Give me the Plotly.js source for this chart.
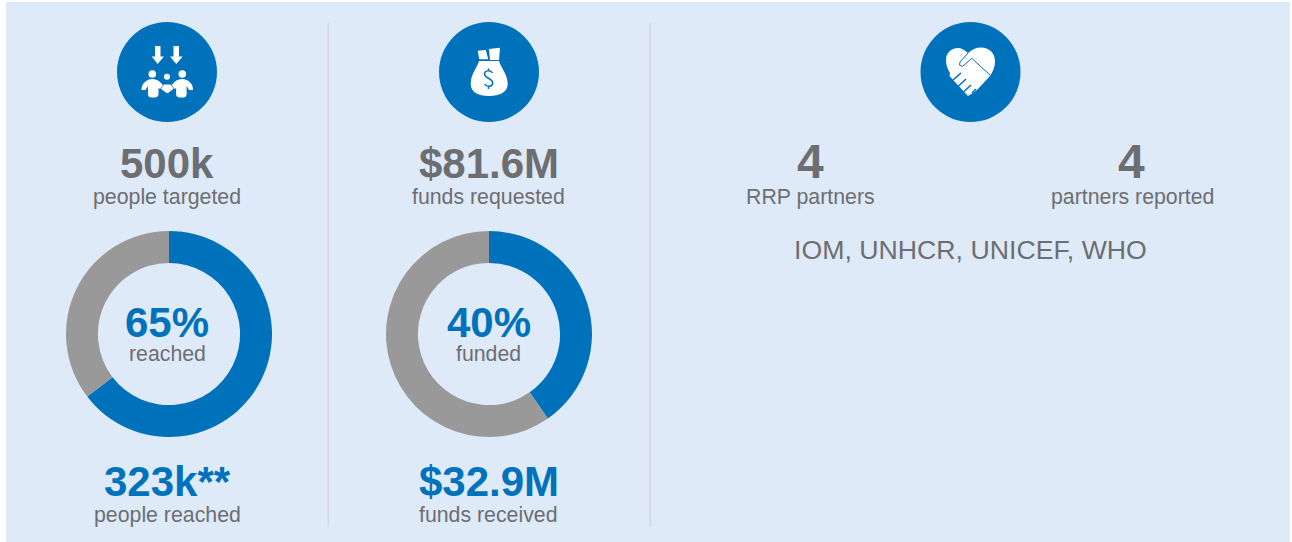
<!DOCTYPE html>
<html><head><meta charset="utf-8">
<script src="https://cdn.plot.ly/plotly-3.0.1.min.js"></script>
<style>html,body{margin:0;padding:0;background:#fff}#c{width:1292px;height:542px}</style>
</head><body><div id="c"></div>
<script>
const W = 1292, H = 542;
const BLUE = '#0072BC', GREY = '#999999', TXT = '#6D6E71', PANEL = '#DFEAF9', RULE = '#D3D8DE';
const FONT = '"Liberation Sans", Arial, sans-serif';

const donutLabels = ['Achieved', 'Remaining'];
const peopleValues = [323, 177];
const fundsValues = [32.9, 48.7];
const donutCentersX = [169, 489];
const donutCenterY = 334;
const donutRadius = 103;

const BIG = 42, SMALL = 21.3;
const texts = [
  ['500k', 167, 163, BIG, TXT, true],
  ['people targeted', 167, 197, SMALL, TXT, false],
  ['65%', 167, 322, BIG, BLUE, true],
  ['reached', 167, 354, SMALL, TXT, false],
  ['323k**', 167, 481, BIG, BLUE, true],
  ['people reached', 167, 515, SMALL, TXT, false],
  ['$81.6M', 488.5, 163, BIG, TXT, true],
  ['funds requested', 488.5, 197, SMALL, TXT, false],
  ['40%', 488.5, 322, BIG, BLUE, true],
  ['funded', 488.5, 354, SMALL, TXT, false],
  ['$32.9M', 488.5, 481, BIG, BLUE, true],
  ['funds received', 488.5, 515, SMALL, TXT, false],
  ['4', 810.5, 161, 48, TXT, true],
  ['RRP partners', 810.5, 197, SMALL, TXT, false],
  ['4', 1131.5, 161, 48, TXT, true],
  ['partners reported', 1132, 197, SMALL, TXT, false],
  ['IOM, UNHCR, UNICEF, WHO', 970, 250, 26.7, TXT, false]
];

const dom = (c, r, size) => [(c - r) / size, (c + r) / size];
const donut = (values, cx) => ({
  type: 'pie', labels: donutLabels, values: values, hole: 0.69, sort: false,
  direction: 'clockwise', rotation: 0, textinfo: 'none', hoverinfo: 'label+value',
  marker: {colors: [BLUE, GREY], line: {width: 0}},
  domain: {x: dom(cx, donutRadius, W), y: [1 - (donutCenterY + donutRadius) / H, 1 - (donutCenterY - donutRadius) / H]},
  showlegend: false
});

const rect = (x0, y0, x1, y1, fill) => ({type: 'rect', xref: 'x', yref: 'y', x0, y0, x1, y1, fillcolor: fill, line: {width: 0}, layer: 'below'});
const circ = (cx, cy, r, fill) => ({type: 'circle', xref: 'x', yref: 'y', x0: cx - r, y0: cy - r, x1: cx + r, y1: cy + r, fillcolor: fill, line: {width: 0}, layer: 'below'});
const path = (d, fill, line) => ({type: 'path', xref: 'x', yref: 'y', path: d, fillcolor: fill, line: line || {width: 0}, layer: 'below'});
const NONE = 'rgba(0,0,0,0)';

const shapes = [
  rect(6, 2, 1290, 542, PANEL),
  rect(327.5, 23, 329, 527, RULE),
  rect(649.5, 23, 651, 527, RULE),
  circ(167, 72, 50, BLUE), circ(489, 72, 50, BLUE), circ(970.5, 72, 50, BLUE),
  // people icon
  path('M155 46 H160.5 V56.5 H164 L157.7 64 L151.7 56.5 H155 Z', '#fff'),
  path('M173.5 46 H179 V56.5 H182.7 L176.3 64 L170 56.5 H173.5 Z', '#fff'),
  circ(152.3, 74, 3.8, '#fff'), circ(182.3, 74, 3.8, '#fff'), circ(167, 76.7, 3, '#fff'),
  path('M141.5 90 C141.5 83 147 79 152.5 79 C158 79 161 83 163 85 L160 89 L158.5 88 V94 C158.5 97 156 97.5 153 97.5 C150 97.5 148 97 148 94 V86 L145.5 90 Z', '#fff'),
  path('M193.1 90 C193.1 83 187.6 79 182.1 79 C176.6 79 173.6 83 171.6 85 L174.6 89 L176.1 88 V94 C176.1 97 178.6 97.5 181.6 97.5 C184.6 97.5 186.6 97 186.6 94 V86 L189.1 90 Z', '#fff'),
  path('M161 88.5 L164 84.5 H170.5 L173.6 88.5 L172 90 L168 93 H166.5 L162.5 90 Z', '#fff'),
  // money bag icon
  path('M477.7 50.7 L485.7 50 L488.3 59.3 L479.3 59.3 Z', '#fff'),
  path('M489 49 L500 47.7 L499 60 L490 60 Z', '#fff'),
  path('M479 61 H499 C501 68 507.7 74 507.7 84 C507.7 92 500 96 489 96 C478 96 470.7 92 470.7 84 C470.7 74 477 68 479 61 Z', '#fff'),
  path('M492.5 73 C490.5 69.5 484.5 70.5 484.5 74 C484.5 78.5 492.7 78 492.7 83 C492.7 87 486.5 87.5 484.5 84 M488.5 68.5 V71 M488.5 86.5 V89', NONE, {color: BLUE, width: 1.5}),
  // handshake heart icon
  path('M968 53 C964 49.5 961 48 958 48 C951 48 946 53 946 60 C946 65 947.5 69 950 73 L949.5 76 L968 96 L973 93 L977 90 L990 76 C993 71 995 67 995 61 C995 53 989 47.5 981 47.5 C976 47.5 972 49.5 968 53 Z', '#fff'),
  path('M968 53 L960 62 L959.5 65 L962.5 66.5 L971.7 58.3 L990 75', NONE, {color: BLUE, width: 1}),
  path('M953 80 L961 73 M958.5 86 L966 79 M964 91.5 L971 85 M972 93 L976 89', NONE, {color: BLUE, width: 1.6})
];

const annotations = texts.map(([text, x, y, size, color, bold]) => ({
  text: bold ? '<b>' + text + '</b>' : text, x, y, xref: 'x', yref: 'y', showarrow: false,
  xanchor: 'center', yanchor: 'middle', font: {family: FONT, size, color}
}));

const hidden = {visible: false, fixedrange: true};
Plotly.newPlot('c', [donut(peopleValues, donutCentersX[0]), donut(fundsValues, donutCentersX[1]),
  {type: 'scatter', x: [0, W], y: [0, H], mode: 'none', hoverinfo: 'skip', showlegend: false}], {
  width: W, height: H, margin: {l: 0, r: 0, t: 0, b: 0, pad: 0},
  paper_bgcolor: '#fff', plot_bgcolor: 'rgba(0,0,0,0)',
  xaxis: Object.assign({range: [0, W]}, hidden),
  yaxis: Object.assign({range: [H, 0]}, hidden),
  shapes, annotations, showlegend: false
}, {displayModeBar: false, staticPlot: true});
</script></body></html>
